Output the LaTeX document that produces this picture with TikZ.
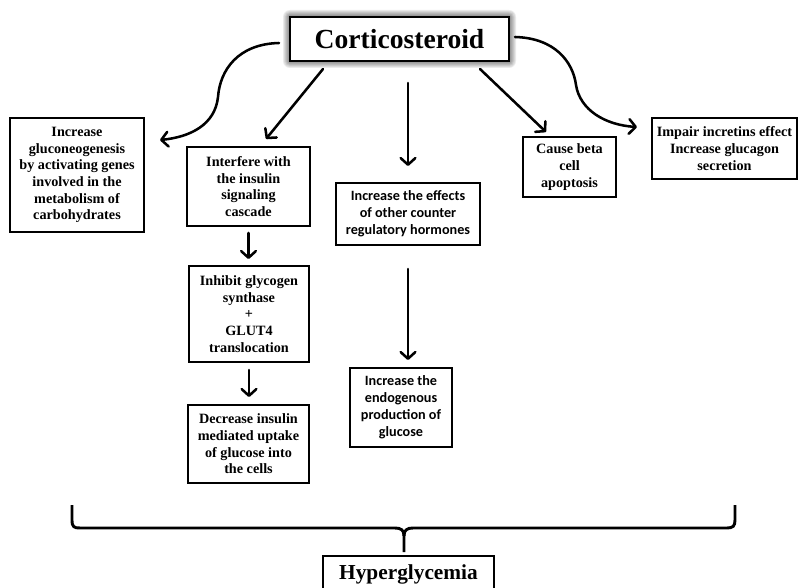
\documentclass[tikz,border=0pt]{standalone}
\usepackage{fontspec}
\setmainfont{Liberation Serif}
\newfontfamily\calib{Carlito}
\usetikzlibrary{arrows.meta}
\begin{document}
\begin{tikzpicture}[x=0.75pt,y=-0.75pt,
  box/.style={draw, line width=1.45pt, align=center, inner sep=0pt, fill=white,
    font=\bfseries\fontsize{10.65}{12.5}\selectfont},
  cbox/.style={box, font=\calib\bfseries\fontsize{10.65}{12.75}\selectfont},
  arr/.style={line width=1.9pt, line cap=round, -{Straight Barb[length=5pt,width=11pt,round]}},
  brace/.style={line width=2.2pt, line join=round},
]
\useasboundingbox (0,0) rectangle (799,588);

% glow around the top box
\foreach \g in {1,...,7}
  \fill[black, opacity=0.08, rounded corners=\g*0.75pt] (290-\g,17-\g) rectangle (509+\g,61+\g);

\node[box, minimum width=164.25pt, minimum height=33pt, font=\bfseries\fontsize{20.7}{24}\selectfont] (cort) at (399.5,39) {Corticosteroid};

\node[box, minimum width=100.5pt, minimum height=85.5pt] (gluco) at (77,175)
  {Increase\\gluconeogenesis\\by activating genes\\involved in the\\metabolism of\\carbohydrates};
\node[box, minimum width=92.25pt, minimum height=59.25pt] (interf) at (248.5,186.5)
  {Interfere with\\the insulin\\signaling\\cascade};
\node[box, minimum width=90pt, minimum height=72pt] (inhib) at (249,314)
  {Inhibit glycogen\\synthase\\+\\GLUT4\\translocation};
\node[box, minimum width=90.75pt, minimum height=58.5pt] (decr) at (248.5,444)
  {Decrease insulin\\mediated uptake\\of glucose into\\the cells};
\node[cbox, minimum width=108pt, minimum height=46.5pt] (effects) at (408,214)
  {Increase the effects\\of other counter\\regulatory hormones};
\node[cbox, minimum width=76.5pt, minimum height=59.25pt] (endog) at (401,407.5)
  {Increase the\\endogenous\\production of\\glucose};
\node[box, minimum width=69.75pt, minimum height=45pt] (beta) at (569.5,167)
  {Cause beta\\cell\\apoptosis};
\node[box, minimum width=108.75pt, minimum height=45.75pt] (impair) at (724.5,148.5)
  {Impair incretins effect\\Increase glucagon\\secretion};
\node[box, minimum width=128.25pt, minimum height=27pt, font=\bfseries\fontsize{16}{19}\selectfont] (hyper) at (408.5,574)
  {Hyperglycemia};

% connector end points
\coordinate (cL) at (279,43);
\coordinate (gL) at (160,140);
\coordinate (cI) at (323,69);
\coordinate (iT) at (266,139);
\coordinate (cM) at (408,83);
\coordinate (eT) at (408,166);
\coordinate (eB) at (408,269);
\coordinate (nT) at (408,360);
\coordinate (cB) at (480,69);
\coordinate (bT) at (546,132);
\coordinate (cR) at (515,37);
\coordinate (pL) at (637,127);

\draw[arr] (cL) .. controls (238,44) and (220,70) .. (218,97)
  .. controls (215,125) and (190,137) .. (gL);
\draw[arr] (cI) -- (iT);
\draw[arr] (cM) -- (eT);
\draw[arr] (cB) -- (bT);
\draw[arr] (cR) .. controls (555,38) and (573,62) .. (576,85)
  .. controls (580,110) and (605,125) .. (pL);
\draw[arr, shorten <=6pt*0.75, shorten >=6pt*0.75] (interf.south) -- (interf.south |- inhib.north);
\draw[arr, shorten <=7pt*0.75, shorten >=7pt*0.75] (inhib.south) -- (inhib.south |- decr.north);
\draw[arr] (eB) -- (nT);

% brace
\coordinate (bl) at (72,505);
\coordinate (br) at (735,505);
\coordinate (bm) at (404,552);
\draw[brace] (bl) -- (72,520) .. controls (72,527) and (74,528) .. (80,528) -- (395,528)
  .. controls (401,528) and (404,530) .. (404,536) -- (bm);
\draw[brace] (404,536) .. controls (404,530) and (407,528) .. (413,528) -- (727,528)
  .. controls (733,528) and (735,526) .. (735,520) -- (br);
\end{tikzpicture}
\end{document}
